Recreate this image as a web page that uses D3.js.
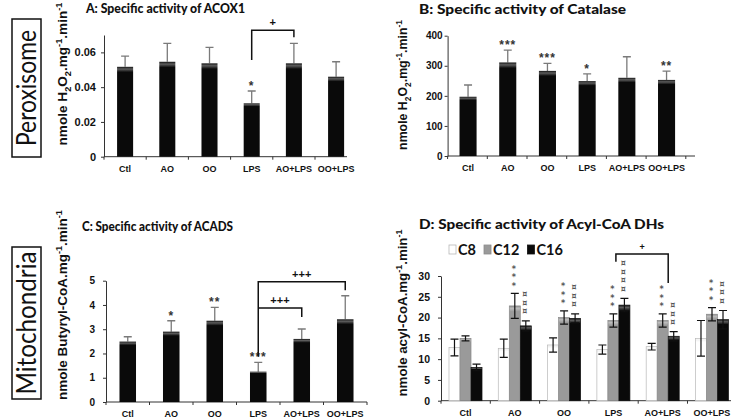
<!DOCTYPE html>
<html><head><meta charset="utf-8">
<script src="https://cdn.jsdelivr.net/npm/d3@7"></script>
<style>body{margin:0;background:#fff} svg{display:block;-webkit-font-smoothing:antialiased}</style>
</head><body>
<svg id="c" width="731" height="418"></svg>
<script>
// ---------- data ----------
const cats = ["Ctl","AO","OO","LPS","AO+LPS","OO+LPS"];
const acoxMean = [0.0517,0.0546,0.0537,0.0307,0.0537,0.0460];
const acoxErr  = [0.0062,0.0106,0.0092,0.0071,0.0115,0.0086];
const acoxTicks = [0,0.02,0.04,0.06];
const acoxSig = ["","","","*","",""];

const catMean = [197,311,283,249,260,253];
const catErr  = [39,41,25,24,70,29];
const catTicks = [0,100,200,300,400];
const catSig = ["","***","***","*","","**"];

const acadsMean = [2.49,2.90,3.35,1.25,2.60,3.41];
const acadsErr  = [0.20,0.45,0.55,0.38,0.41,0.97];
const acadsTicks = [0,1,2,3,4,5];
const acadsSig = ["","*","**","***","",""];

const series = ["C8","C12","C16"];
const c8Mean  = [12.8,12.6,13.4,12.3,13.0,15.0];
const c8Err   = [2.0,2.2,1.7,1.1,0.8,4.3];
const c12Mean = [15.0,22.8,20.0,19.3,19.3,20.8];
const c12Err  = [0.6,3.0,1.6,1.6,1.6,1.6];
const c16Mean = [8.0,18.0,19.8,23.0,15.5,19.5];
const c16Err  = [0.8,1.2,1.1,1.6,1.1,2.2];
const dhTicks = [0,5,10,15,20,25,30];
const c12Stars = [0,3,3,3,3,3];
const c16Curr  = [0,3,3,4,3,3];

// brackets: from, to, top value, left-leg end, right-leg end, label
const acoxBrackets = [{from:"LPS",to:"AO+LPS",top:0.0727,l:0.0556,r:0.0687,label:"+"}];
const acadsBrackets = [
  {from:"LPS",to:"OO+LPS",top:4.96,l:1.87,r:4.61,label:"+++"},
  {from:"LPS",to:"AO+LPS",top:3.87,l:3.87,r:3.50,label:"+++"}
];
const dhBracket = {from:"LPS",to:"AO+LPS",top:35.3,l:33.4,r:28.3,label:"+"};

// ---------- drawing ----------
const svg = d3.select("#c");
const defs = svg.append("defs");
function grad(id, c0, hl, c1){
  const g = defs.append("linearGradient").attr("id",id).attr("x1",0).attr("x2",0).attr("y1",0).attr("y2",1);
  g.append("stop").attr("offset","0%").attr("stop-color",c0);
  g.append("stop").attr("offset","2.5%").attr("stop-color",hl);
  g.append("stop").attr("offset","6%").attr("stop-color",c1);
  g.append("stop").attr("offset","100%").attr("stop-color",c1);
}
grad("gBlack","#151515","#5c5c5c","#0a0a0a");
grad("gGray","#8c8c8c","#bdbdbd","#9a9a9a");
grad("gWhite","#fff","#f2f2f2","#fff");

const AX = "#333";
const tickFont = "Liberation Sans, Arial, sans-serif";
const titleFont = "Lato, 'Open Sans', sans-serif";

// fit a text to the reference width, keeping its font size (glyph height)
function squeeze(sel, target){
  sel.attr("textLength", target).attr("lengthAdjust","spacingAndGlyphs");
  return sel;
}

function yLabel(g, cx, cy, parts, target){
  function build(size){
    const t = g.append("text").attr("transform",`translate(${cx},${cy}) rotate(-90)`)
      .attr("text-anchor","middle").attr("font-family",tickFont).attr("font-weight","bold")
      .attr("font-size",size).attr("fill","#111");
    let cur = 0;
    parts.forEach(([s,k])=>{
      const tg = k===-1 ? size*0.3 : (k===1 ? -size*0.4 : 0);
      t.append("tspan").attr("dy",tg-cur).attr("font-size",k===0?size:size*0.68).text(s);
      cur = tg;
    });
    return t;
  }
  const t0 = build(12);
  const len = t0.node().getComputedTextLength();
  t0.remove();
  build(12*target/len);
}
const h2o2 = [["nmole H",0],["2",-1],["O",0],["2",-1],[".mg",0],["-1",1],[".min",0],["-1",1]];
const buty = [["nmole Butyryl-CoA.mg",0],["-1",1],[".min",0],["-1",1]];
const acyl = [["nmole acyl-CoA.mg",0],["-1",1],[".min",0],["-1",1]];

function axes(g, x, y, ticks, fmt, axisEnd, tickFs, labPad){
  const ya = g.append("g").attr("transform",`translate(${x.range()[0]},0)`)
    .call(d3.axisLeft(y).tickValues(ticks).tickFormat(fmt).tickSize(3).tickSizeOuter(0).tickPadding(labPad));
  ya.select(".domain").attr("stroke",AX);
  ya.selectAll(".tick line").attr("stroke",AX);
  ya.selectAll("text").attr("font-family",tickFont).attr("font-weight","bold").attr("font-size",tickFs).attr("fill","#111");
  const y0 = y(0);
  g.append("line").attr("x1",x.range()[0]).attr("x2",axisEnd).attr("y1",y0).attr("y2",y0).attr("stroke",AX);
  const step = x.step();
  const b0 = x.range()[0];
  d3.range(cats.length+1).forEach(i=>{
    const bx = b0 + i*step;
    if (bx <= axisEnd+0.5) g.append("line").attr("x1",bx).attr("x2",bx).attr("y1",y0).attr("y2",y0+3).attr("stroke",AX);
  });
  g.append("g").selectAll("text").data(cats).join("text")
    .attr("x",d=>x(d)+x.bandwidth()/2).attr("y",y0+15)
    .attr("text-anchor","middle").attr("font-family",tickFont).attr("font-weight","bold")
    .attr("font-size",9).attr("fill","#111").text(d=>d);
}

function title(g, txt, x, y, size, target){
  squeeze(g.append("text").attr("x",x).attr("y",y).attr("font-family",titleFont)
    .attr("font-weight",900).attr("font-size",size).attr("fill","#111").text(txt), target);
}

function singlePanel(o){
  const g = svg.append("g");
  const x = d3.scaleBand().domain(cats).range(o.xr).paddingInner(o.pi).paddingOuter(o.po);
  const y = d3.scaleLinear().domain([0,o.ymax]).range(o.yr);
  axes(g, x, y, o.ticks, o.fmt, o.axisEnd, o.tickFs, o.labPad);
  const data = cats.map((c,i)=>({c, m:o.mean[i], e:o.err[i], s:o.sig[i]}));
  const cx = d=>x(d.c)+x.bandwidth()/2;
  g.append("g").selectAll("path").data(data).join("path")
    .attr("d",d=>`M${cx(d)},${y(d.m)}V${y(d.m+d.e)}M${cx(d)-4},${y(d.m+d.e)}H${cx(d)+4}`)
    .attr("stroke","#7a7a7a").attr("stroke-width",1.3).attr("fill","none");
  g.append("g").selectAll("rect").data(data).join("rect")
    .attr("x",d=>x(d.c)).attr("width",x.bandwidth())
    .attr("y",d=>y(d.m)).attr("height",d=>y(0)-y(d.m))
    .attr("fill","url(#gBlack)");
  g.append("g").selectAll("text").data(data.filter(d=>d.s)).join("text")
    .attr("x",cx).attr("y",d=>y(d.m+d.e)-1)
    .attr("text-anchor","middle").attr("font-family",tickFont).attr("font-weight","bold")
    .attr("font-size",12).attr("fill","#333").attr("letter-spacing",1).text(d=>d.s);
  (o.brackets||[]).forEach(b=>{
    const xl = x(b.from)+x.bandwidth()/2, xr = x(b.to)+x.bandwidth()/2;
    g.append("path").attr("d",`M${xl},${y(b.l)}V${y(b.top)}H${xr}V${y(b.r)}`)
      .attr("stroke","#111").attr("stroke-width",1.5).attr("fill","none");
    g.append("text").attr("x",(xl+xr)/2).attr("y",y(b.top)-4).attr("text-anchor","middle")
      .attr("font-family",tickFont).attr("font-weight","bold").attr("font-size",11).attr("fill","#111").text(b.label);
  });
  title(g, o.title[0], o.title[1], o.title[2], o.title[3], o.title[4]);
  yLabel(g, o.yl[0], o.yl[1], o.yl[2], o.yl[3]);
}

singlePanel({xr:[104,357.2], pi:0.62, po:0.31, ymax:0.07, yr:[156.7,35], ticks:acoxTicks,
  fmt:d=>d===0?"0":d3.format(".2f")(d), axisEnd:347, tickFs:11, labPad:5,
  mean:acoxMean, err:acoxErr, sig:acoxSig, brackets:acoxBrackets,
  title:["A: Specific activity of ACOX1",86,12.5,13,159], yl:[67,74,h2o2,143]});

singlePanel({xr:[447.6,687], pi:0.57, po:0.30, ymax:400, yr:[156,35.7], ticks:catTicks,
  fmt:d3.format("d"), axisEnd:695, tickFs:10, labPad:2,
  mean:catMean, err:catErr, sig:catSig,
  title:["B: Specific activity of Catalase",419,13.5,13.5,207], yl:[407,85,h2o2,130]});

singlePanel({xr:[106,367], pi:0.62, po:0.31, ymax:5, yr:[402,280.7], ticks:acadsTicks,
  fmt:d3.format("d"), axisEnd:367, tickFs:10, labPad:8,
  mean:acadsMean, err:acadsErr, sig:acadsSig, brackets:acadsBrackets,
  title:["C: Specific activity of ACADS",82,231,13,151], yl:[67,305,buty,190]});

// ---------- panel D (grouped) ----------
(function(){
  const g = svg.append("g");
  const x0 = d3.scaleBand().domain(cats).range([441,736.5]).paddingInner(0.33).paddingOuter(0.162);
  const x1 = d3.scaleBand().domain(series).range([0,x0.bandwidth()]);
  const y = d3.scaleLinear().domain([0,30]).range([400.7,276]);
  axes(g, x0, y, dhTicks, d3.format("d"), 731, 10.5, 8);
  const means = [c8Mean,c12Mean,c16Mean], errs=[c8Err,c12Err,c16Err];
  const fills = ["url(#gWhite)","url(#gGray)","url(#gBlack)"];
  const strokes = ["#b8b8b8","#8a8a8a","#111"];
  const data = [];
  cats.forEach((c,i)=>series.forEach((s,j)=>data.push({c,s,j,m:means[j][i],e:errs[j][i]})));
  const bx = d=>x0(d.c)+x1(d.s);
  g.append("g").selectAll("rect").data(data).join("rect")
    .attr("x",bx).attr("width",x1.bandwidth()).attr("y",d=>y(d.m)).attr("height",d=>y(0)-y(d.m))
    .attr("fill",d=>fills[d.j]).attr("stroke",d=>strokes[d.j]).attr("stroke-width",0.7);
  g.append("g").selectAll("path").data(data).join("path")
    .attr("d",d=>{const c=bx(d)+x1.bandwidth()/2, t=y(d.m+d.e), b=y(d.m-d.e);
      return `M${c},${b}V${t}M${c-4},${t}H${c+4}M${c-4},${b}H${c+4}`;})
    .attr("stroke","#111").attr("stroke-width",1.2).attr("fill","none");
  // stacked markers
  const marks = [];
  cats.forEach((c,i)=>{
    const t12 = y(c12Mean[i]+c12Err[i]);
    for(let k=0;k<c12Stars[i];k++) marks.push({x:x0(c)+x1("C12")+x1.bandwidth()/2-1, y:t12-9-k*8.5, s:"*"});
    const t16 = y(c16Mean[i]+c16Err[i]);
    for(let k=0;k<c16Curr[i];k++) marks.push({x:x0(c)+x1("C16")+x1.bandwidth()/2-1, y:t16-9-k*8.5, s:"¤"});
  });
  g.append("g").attr("opacity",0.99).selectAll("text").data(marks).join("text")
    .attr("x",d=>d.x).attr("y",d=>d.y).attr("dy",d=>d.s==="*"?"0.55em":"0.3em")
    .attr("text-anchor","middle").attr("font-family","DejaVu Sans, sans-serif").attr("font-weight","bold")
    .attr("font-size",8).attr("fill","#555").text(d=>d.s);
  // bracket
  const b = dhBracket;
  const xl = x0(b.from)+x1("C16")-3, xr = x0(b.to)+x1("C16");
  g.append("path").attr("d",`M${xl},${y(b.l)}V${y(b.top)}H${xr}V${y(b.r)}`)
    .attr("stroke","#111").attr("stroke-width",1.5).attr("fill","none");
  g.append("text").attr("x",(xl+xr)/2).attr("y",y(b.top)-4).attr("text-anchor","middle")
    .attr("font-family",tickFont).attr("font-weight","bold").attr("font-size",9).attr("fill","#111").text(b.label);
  // legend
  const lg = g.append("g").attr("transform","translate(449,254)");
  let lx = 0;
  series.forEach((s,i)=>{
    const it = lg.append("g").attr("transform",`translate(${lx},0)`);
    it.append("rect").attr("x",0).attr("y",-9).attr("width",7).attr("height",9)
      .attr("fill",fills[i]).attr("stroke",strokes[i]).attr("stroke-width",0.8);
    const t = it.append("text").attr("x",9).attr("y",0.5).attr("font-family",titleFont).attr("font-weight",700)
      .attr("font-size",14.5).attr("fill","#111").text(s);
    lx += 9 + t.node().getComputedTextLength() + 8;
  });
  title(g, "D: Specific activity of Acyl-CoA DHs", 419, 229, 14, 245);
  yLabel(g, 407, 313, acyl, 167);
})();

// ---------- side labels ----------
function side(txt, x, y, w, h, target){
  svg.append("rect").attr("x",x).attr("y",y).attr("width",w).attr("height",h)
    .attr("fill","#fff").attr("stroke","#111").attr("stroke-width",1.5);
  squeeze(svg.append("text").attr("transform",`translate(${x+w/2+9.5},${y+h/2}) rotate(-90)`)
    .attr("text-anchor","middle").attr("font-family",titleFont).attr("font-size",26).attr("fill","#111").text(txt), target);
}
side("Peroxisome", 12, 19, 29, 138, 116);
side("Mitochondria", 12, 247, 29, 152, 143);
</script>
</body></html>
